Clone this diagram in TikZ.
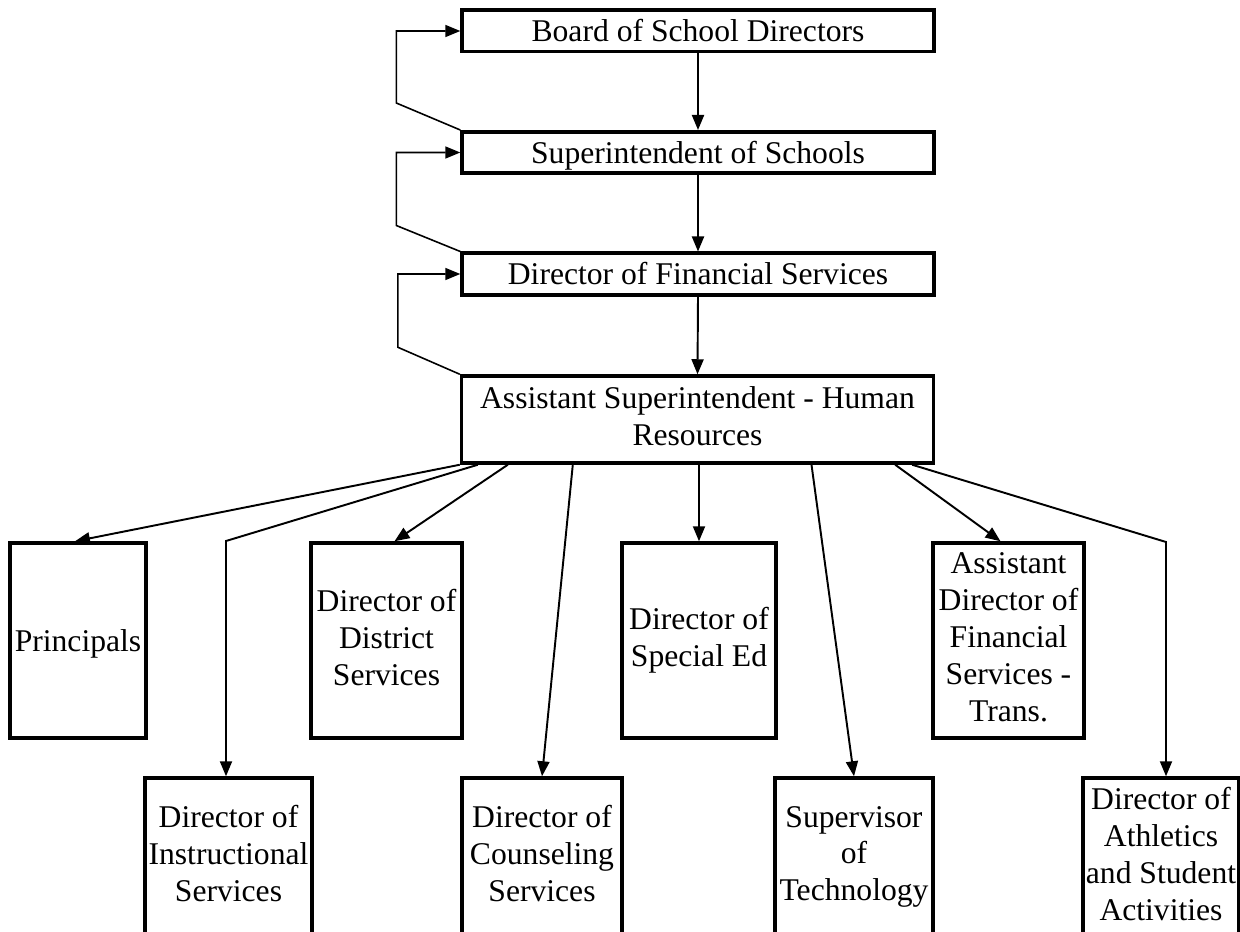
\documentclass[tikz,border=0pt]{standalone}
\usepackage{fontspec}
\setmainfont{Liberation Serif}
\usetikzlibrary{arrows.meta,calc}
\newcommand{\orgstrut}{\rule[-0.22em]{0pt}{1.12em}}
\begin{document}
\begin{tikzpicture}[x=0.02cm,y=-0.02cm,
    orgbox/.style={draw,line width=2pt,align=center,inner sep=1pt,
        font=\fontsize{18}{21}\selectfont,
        execute at begin node=\orgstrut,execute at end node=\orgstrut},
    headbox/.style={orgbox,minimum width=9.44cm,minimum height=0.83cm},
    midbox/.style={orgbox,minimum height=3.9cm},
    footbox/.style={orgbox,minimum height=3.16cm},
    reports/.style={line width=1.1pt,-{Triangle[length=0.3cm,width=0.24cm]}},
    loopback/.style={line width=0.9pt,-{Triangle[length=0.3cm,width=0.24cm]}}]
    \clip (0,0) rectangle (1240,932);
    \fill[white] (0,0) rectangle (1240,932);

    % top of the chart
    \node[headbox] (board) at (698,31) {Board of School Directors};
    \node[headbox] (supt) at (698,152.5) {Superintendent of Schools};
    \node[headbox] (dirfin) at (698,274) {Director of Financial Services};
    \node[headbox,minimum height=1.74cm] (asst) at (697.5,419.5)
        {Assistant Superintendent - Human\\Resources};

    % first row
    \node[midbox,minimum width=2.72cm] (principals) at (78,640.5) {Principals};
    \node[midbox,minimum width=3.02cm] (district) at (386.5,640.5) {Director of\\District\\Services};
    \node[midbox,minimum width=3.08cm] (speced) at (699,640.5) {Director of\\Special Ed};
    \node[midbox,minimum width=3.02cm] (asstdir) at (1008.5,640.5)
        {Assistant\\Director of\\Financial\\Services -\\Trans.};

    % second row
    \node[footbox,minimum width=3.34cm] (instr) at (228.5,857) {Director of\\Instructional\\Services};
    \node[footbox,minimum width=3.2cm] (couns) at (542,857) {Director of\\Counseling\\Services};
    \node[footbox,minimum width=3.16cm] (techsup) at (854,857) {Supervisor\\of\\Technology};
    \node[footbox,minimum width=3.12cm] (athl) at (1161,857)
        {Director of\\Athletics\\and Student\\Activities};

    \coordinate (instrbend) at (226,541);
    \coordinate (athlbend) at (1166,542);

    \draw[reports] (board.south) -- (supt.north);
    \draw[reports] (supt.south) -- (dirfin.north);
    \draw[reports] (dirfin.south) -- (asst.north);

    \draw[loopback] (supt.north west) -- ++(-64,-27) |- (board.west);
    \draw[loopback] (dirfin.north west) -- ++(-64,-26) |- (supt.west);
    \draw[loopback] (asst.north west) -- ++(-62,-27) |- (dirfin.west);

    \draw[reports] (asst.south west) -- ($(principals.north)+(-3,0)$);
    \draw[reports] ($(asst.south west)+(18,0)$) -- (instrbend) -- (instrbend |- instr.north);
    \draw[reports] ($(asst.south west)+(48,0)$) -- ($(district.north)+(8,0)$);
    \draw[reports] ($(asst.south west)+(113,0)$) -- (couns.north);
    \draw[reports] (asst.south -| speced.north) -- (speced.north);
    \draw[reports] ($(asst.south)+(114,0)$) -- (techsup.north);
    \draw[reports] ($(asst.south east)+(-40,0)$) -- ($(asstdir.north)+(-8,0)$);
    \draw[reports] ($(asst.south east)+(-23,0)$) -- (athlbend) -- (athlbend |- athl.north);
\end{tikzpicture}
\end{document}
